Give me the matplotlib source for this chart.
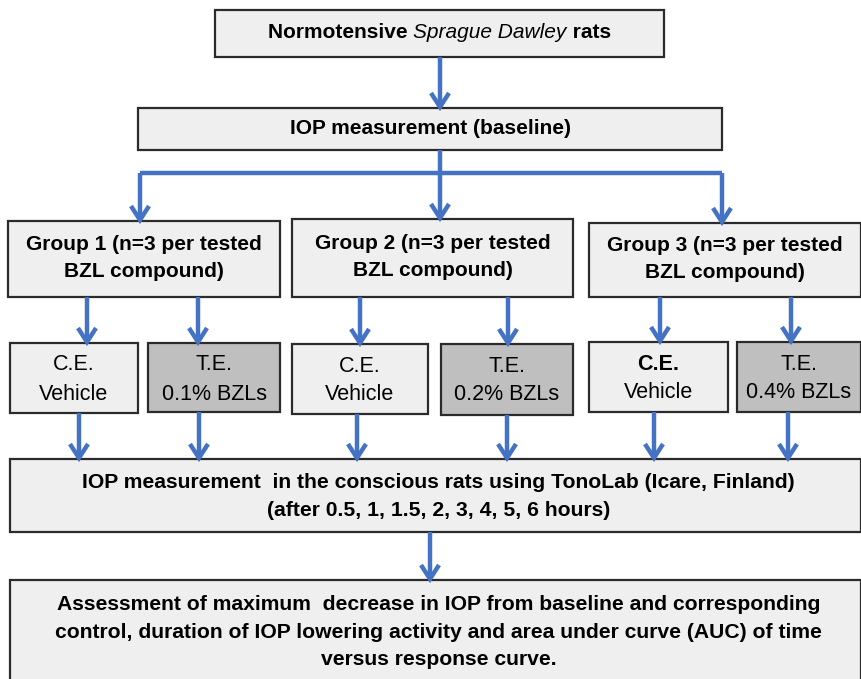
import matplotlib
matplotlib.use("Agg")
import matplotlib.pyplot as plt
from matplotlib.patches import Rectangle
from matplotlib import font_manager

# ---- content ----
title_parts = [("Normotensive ", "bold", "normal"), ("Sprague Dawley", "normal", "italic"), (" rats", "bold", "normal")]
baseline_label = "IOP measurement (baseline)"
group_labels = ["Group 1 (n=3 per tested\nBZL compound)",
                "Group 2 (n=3 per tested\nBZL compound)",
                "Group 3 (n=3 per tested\nBZL compound)"]
sub_labels = ["C.E.", "T.E.", "C.E.", "T.E.", "C.E.", "T.E."]
sub_second = ["Vehicle", "0.1% BZLs", "Vehicle", "0.2% BZLs", "Vehicle", "0.4% BZLs"]
sub_first_bold = [False, False, False, False, True, False]
sub_dark = [False, True, False, True, False, True]
measure_label = "IOP measurement  in the conscious rats using TonoLab (Icare, Finland)\n(after 0.5, 1, 1.5, 2, 3, 4, 5, 6 hours)"
final_label = ("Assessment of maximum  decrease in IOP from baseline and corresponding\n"
               "control, duration of IOP lowering activity and area under curve (AUC) of time\n"
               "versus response curve.")

# ---- layout (pixel coordinates, y downward) ----
W, H = 861, 679
box_top = (215, 10, 664, 57)
box_base = (138, 108, 722, 150)
group_boxes = [(8, 221, 280, 297), (292, 219, 573, 297), (589, 223, 861, 297)]
sub_boxes = [(10, 343, 138, 413), (148, 343, 280, 412),
             (292, 344, 428, 414), (441, 344, 573, 415),
             (589, 342, 728, 412), (737, 342, 861, 412)]
box_meas = (10, 459, 861, 532)
box_final = (10, 580, 861, 700)

light = "#efefef"
dark = "#bfbfbf"
edge = "#2b2b2b"
blue = "#4472c4"

names = {f.name for f in font_manager.fontManager.ttflist}
narrow = "Liberation Sans Narrow" if "Liberation Sans Narrow" in names else "Liberation Sans"
sans = "Liberation Sans"

fig = plt.figure(figsize=(W / 100, H / 100), dpi=100)
ax = fig.add_axes([0, 0, 1, 1])
ax.set_xlim(0, W)
ax.set_ylim(H, 0)
ax.axis("off")


def box(b, fc):
    x0, y0, x1, y1 = b
    ax.add_patch(Rectangle((x0, y0), x1 - x0, y1 - y0, facecolor=fc, edgecolor=edge, lw=1.6, zorder=2))


def line(xs, ys):
    ax.plot(xs, ys, color=blue, lw=3.2, zorder=3, solid_capstyle="butt")


def vline_arrow(x, y0, y1):
    line([x, x], [y0, y1 - 2])
    ax.plot([x - 9, x, x + 9], [y1 - 15, y1 - 1, y1 - 15], color=blue, lw=3.2, zorder=3,
            solid_capstyle="butt", solid_joinstyle="miter")


# boxes
box(box_top, light)
box(box_base, light)
for b in group_boxes:
    box(b, light)
for b, d in zip(sub_boxes, sub_dark):
    box(b, dark if d else light)
box(box_meas, light)
box(box_final, light)

# title with mixed style
fig.canvas.draw()
renderer = fig.canvas.get_renderer()
fs_title = 15
widths = []
tmp = []
for txt, wt, st in title_parts:
    t = ax.text(0, 0, txt, fontsize=fs_title, fontweight=wt, fontstyle=st, family=sans)
    bb = t.get_window_extent(renderer)
    widths.append(bb.width)
    tmp.append(t)
for t in tmp:
    t.remove()
total = sum(widths)
cx = (box_top[0] + box_top[2]) / 2
cy = (box_top[1] + box_top[3]) / 2 - 1
x = cx - total / 2
for (txt, wt, st), w in zip(title_parts, widths):
    ax.text(x, cy, txt, fontsize=fs_title, fontweight=wt, fontstyle=st, family=sans,
            ha="left", va="center", zorder=4)
    x += w

# baseline
ax.text((box_base[0] + box_base[2]) / 2, (box_base[1] + box_base[3]) / 2, baseline_label,
        fontsize=15, fontweight="bold", family=sans, ha="center", va="center", zorder=4)

# group labels
for b, lab in zip(group_boxes, group_labels):
    ax.text((b[0] + b[2]) / 2, (b[1] + b[3]) / 2 - 1, lab, fontsize=15, fontweight="bold", family=sans,
            ha="center", va="center", linespacing=1.5, zorder=4)

# sub labels
for b, l1, l2, bold in zip(sub_boxes, sub_labels, sub_second, sub_first_bold):
    cxs = (b[0] + b[2]) / 2
    ax.text(cxs, b[1] + 22, l1, fontsize=15.5, fontweight="bold" if bold else "normal", family=sans,
            ha="center", va="center", zorder=4)
    ax.text(cxs, b[1] + 51, l2, fontsize=15.5, family=sans, ha="center", va="center", zorder=4)

# measurement
ax.text((box_meas[0] + box_meas[2]) / 2 + 3, (box_meas[1] + box_meas[3]) / 2 + 1, measure_label,
        fontsize=15.2, fontweight="bold", family=narrow, ha="center", va="center", linespacing=1.55, zorder=4)
# final
ax.text((box_final[0] + box_final[2]) / 2 + 3, 632, final_label,
        fontsize=15.2, fontweight="bold", family=narrow, ha="center", va="center", linespacing=1.58, zorder=4)

# arrows
vline_arrow(440, box_top[3], box_base[1])
line([440, 440], [box_base[3], 173])
line([140, 722], [173, 173])
for gx, gb in zip([140, 440, 722], group_boxes):
    vline_arrow(gx, 173, gb[1])

sub_arrow_x = [87, 198, 360, 508, 660, 791]
group_of_sub = [0, 0, 1, 1, 2, 2]
for sx, gi, sb in zip(sub_arrow_x, group_of_sub, sub_boxes):
    vline_arrow(sx, group_boxes[gi][3], sb[1])

down_x = [79, 199, 357, 507, 654, 788]
for dx, sb in zip(down_x, sub_boxes):
    vline_arrow(dx, sb[3], box_meas[1])

vline_arrow(430, box_meas[3], box_final[1])

fig.savefig("out.png", dpi=100)
